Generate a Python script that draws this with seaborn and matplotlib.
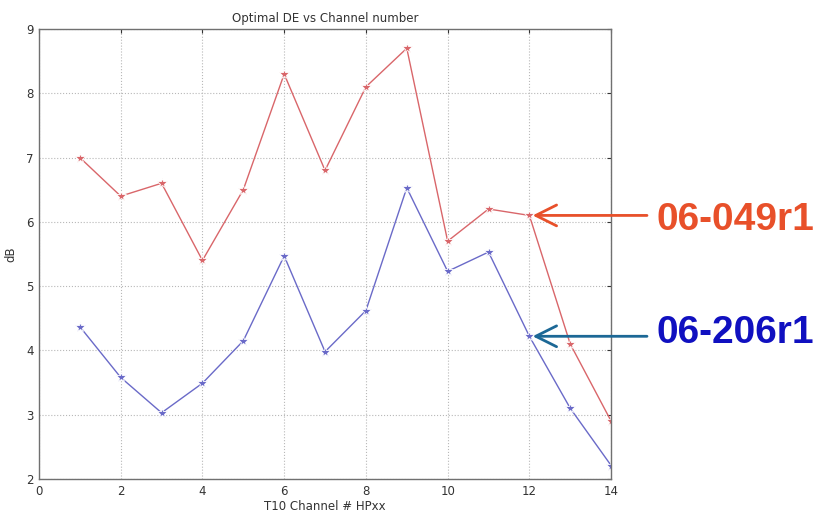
import numpy as np
import pandas as pd
import matplotlib
matplotlib.use("Agg")
import matplotlib.pyplot as plt
from matplotlib import font_manager
import seaborn as sns

channels = list(range(1, 15))
de_049r1 = [7.0, 6.4, 6.6, 5.4, 6.5, 8.3, 6.8, 8.1, 8.7, 5.7, 6.2, 6.1, 4.1, 2.9]
de_206r1 = [4.37, 3.58, 3.03, 3.49, 4.15, 5.47, 3.98, 4.62, 6.53, 5.23, 5.53, 4.22, 3.1, 2.21]
series_names = ["06-049r1", "06-206r1"]
x_ticks = [0, 2, 4, 6, 8, 10, 12, 14]
y_ticks = [2, 3, 4, 5, 6, 7, 8, 9]

df = pd.DataFrame({
    "channel": channels * 2,
    "dB": de_049r1 + de_206r1,
    "doc": [series_names[0]] * len(channels) + [series_names[1]] * len(channels),
})

sns.set_style("white")
plt.rcParams["font.family"] = ["DejaVu Sans"]

fig = plt.figure(figsize=(8.17, 5.15), dpi=100)
ax = fig.add_axes([0.0477, 0.0699, 0.7003, 0.8738])

line_colors = {"06-049r1": "#d9666a", "06-206r1": "#6a6ac8"}
sns.lineplot(data=df, x="channel", y="dB", hue="doc", palette=line_colors,
             marker="*", markersize=7, markeredgewidth=0.6, linewidth=1.0,
             legend=False, ax=ax)

ax.set_xlim(0, 14)
ax.set_ylim(2, 9)
ax.set_xticks(x_ticks)
ax.set_yticks(y_ticks)
ax.grid(True, linestyle=":", color="#b8b8b8", linewidth=0.8)
for s in ax.spines.values():
    s.set_color("#707070")
    s.set_linewidth(1.0)
ax.tick_params(direction="in", length=3, labelsize=8.5, colors="#333333", pad=4,
               top=True, right=True)
ax.set_title("Optimal DE vs Channel number", fontsize=8.5, color="#333333", pad=5)
ax.set_xlabel("T10 Channel # HPxx", fontsize=8.5, color="#333333", labelpad=2)
ax.set_ylabel("dB", fontsize=8.5, color="#333333", labelpad=6)

# pick a condensed bold face for the callout labels if one is installed
installed = {f.name for f in font_manager.fontManager.ttflist}
label_font = [f for f in ["Liberation Sans Narrow", "DejaVu Sans Condensed"] if f in installed]
label_font += ["Liberation Sans", "DejaVu Sans"]
label_size = 34 if label_font[0] in ("Liberation Sans Narrow", "DejaVu Sans Condensed") else 28

callouts = [
    (series_names[0], 12, de_049r1[11], "#e8502a", "#e8502a", -5),
    (series_names[1], 12, de_206r1[11], "#1c6896", "#1010c0", 3),
]
for name, cx, cy, arrow_col, text_col, dy in callouts:
    ax.annotate("", xy=(cx + 0.08, cy), xycoords="data",
                xytext=(647 / 817, cy), textcoords=("figure fraction", "data"),
                arrowprops=dict(arrowstyle="->,head_length=1.5,head_width=0.75",
                                color=arrow_col, lw=2.0, shrinkA=0, shrinkB=0),
                annotation_clip=False)
    ax.annotate(name, xy=(656 / 817, cy), xycoords=("figure fraction", "data"),
                xytext=(0, dy), textcoords="offset pixels",
                fontsize=label_size, fontweight="bold", color=text_col,
                family=label_font, va="center", ha="left",
                annotation_clip=False)

fig.savefig("out.png", dpi=100)
